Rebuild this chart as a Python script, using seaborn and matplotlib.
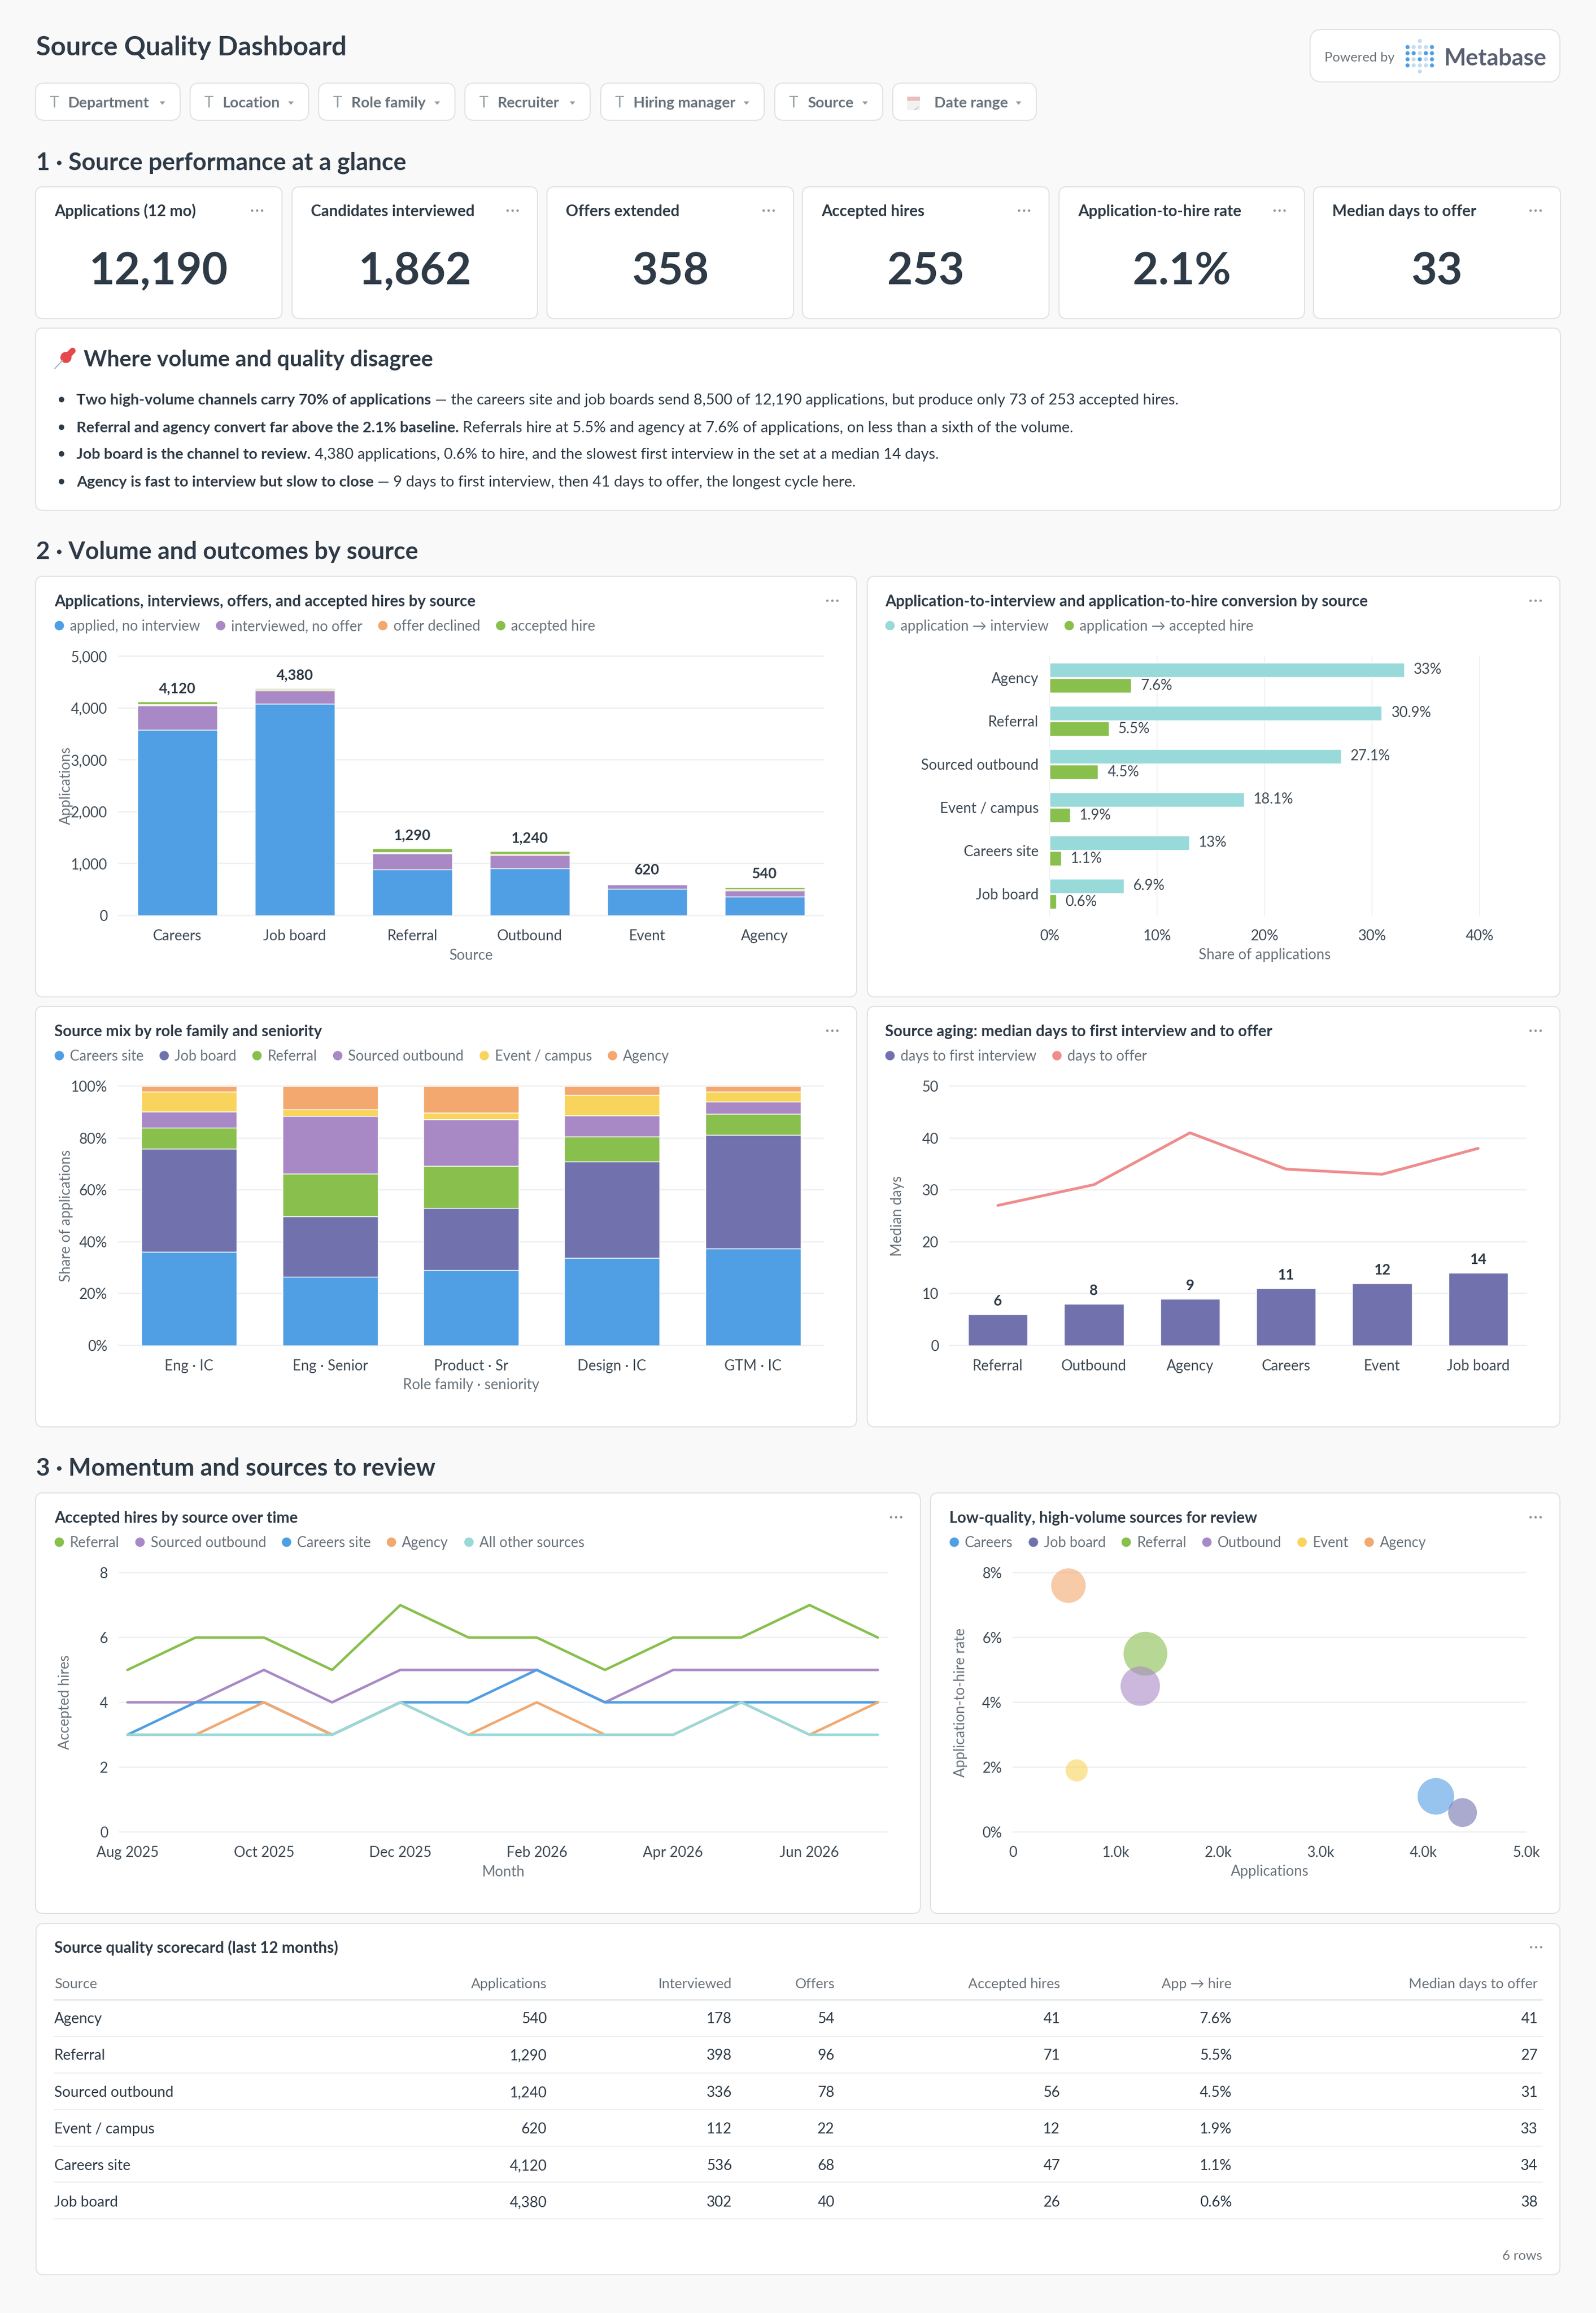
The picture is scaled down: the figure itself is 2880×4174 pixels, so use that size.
import pandas as pd
import matplotlib
matplotlib.use('Agg')
import matplotlib.pyplot as plt
import seaborn as sns
from matplotlib.patches import FancyBboxPatch, Circle, Polygon, Rectangle

W, H = 2880, 4174
PX = 0.72  # points per pixel at dpi 100

BG = '#F9F9FA'
BORDER = '#DFE3E4'
GRID = '#EEEFF0'
DARK = '#2E3A46'
TICK = '#3F4A54'
MUTED = '#6A737B'

BLUE = '#509EE3'
PURPLE = '#A989C5'
ORANGE = '#F2A86F'
GREEN = '#88BF4D'
INDIGO = '#7172AD'
YELLOW = '#F9D45C'
TEAL = '#98D9D9'
CORAL = '#EF8C8C'

# filters and KPI row
filter_names = ['Department', 'Location', 'Role family', 'Recruiter', 'Hiring manager', 'Source', 'Date range']
kpi_names = ['Applications (12 mo)', 'Candidates interviewed', 'Offers extended', 'Accepted hires',
             'Application-to-hire rate', 'Median days to offer']
kpi_values = ['12,190', '1,862', '358', '253', '2.1%', '33']

insights = [
    ('Two high-volume channels carry 70% of applications',
     ' — the careers site and job boards send 8,500 of 12,190 applications, but produce only 73 of 253 accepted hires.'),
    ('Referral and agency convert far above the 2.1% baseline.',
     ' Referrals hire at 5.5% and agency at 7.6% of applications, on less than a sixth of the volume.'),
    ('Job board is the channel to review.',
     ' 4,380 applications, 0.6% to hire, and the slowest first interview in the set at a median 14 days.'),
    ('Agency is fast to interview but slow to close',
     ' — 9 days to first interview, then 41 days to offer, the longest cycle here.'),
]

# funnel by source
funnel_sources = ['Careers', 'Job board', 'Referral', 'Outbound', 'Event', 'Agency']
applied_no_interview = [3584, 4078, 892, 904, 508, 362]
interviewed_no_offer = [468, 262, 302, 258, 90, 124]
offer_declined = [21, 14, 25, 22, 10, 13]
accepted_hire = [47, 26, 71, 56, 12, 41]
funnel_totals = [4120, 4380, 1290, 1240, 620, 540]

# conversion
conv_sources = ['Agency', 'Referral', 'Sourced outbound', 'Event / campus', 'Careers site', 'Job board']
app_to_interview = [33, 30.9, 27.1, 18.1, 13, 6.9]
app_to_hire = [7.6, 5.5, 4.5, 1.9, 1.1, 0.6]

# source mix
mix_roles = ['Eng · IC', 'Eng · Senior', 'Product · Sr', 'Design · IC', 'GTM · IC']
mix_careers = [36.2, 26.6, 29.1, 33.7, 37.3]
mix_job_board = [39.7, 23.2, 23.9, 37.2, 43.8]
mix_referral = [8.0, 16.4, 16.2, 9.7, 8.3]
mix_outbound = [6.3, 22.2, 18.0, 8.0, 4.6]
mix_event = [7.7, 2.7, 2.6, 7.9, 3.8]
mix_agency = [2.1, 8.9, 10.2, 3.5, 2.2]

# aging
aging_sources = ['Referral', 'Outbound', 'Agency', 'Careers', 'Event', 'Job board']
days_first_interview = [6, 8, 9, 11, 12, 14]
days_to_offer = [27, 31, 41, 34, 33, 38]

# hires over time
months = ['Aug 2025', 'Sep 2025', 'Oct 2025', 'Nov 2025', 'Dec 2025', 'Jan 2026',
          'Feb 2026', 'Mar 2026', 'Apr 2026', 'May 2026', 'Jun 2026', 'Jul 2026']
hires_referral = [5, 6, 6, 5, 7, 6, 6, 5, 6, 6, 7, 6]
hires_outbound = [4, 4, 5, 4, 5, 5, 5, 4, 5, 5, 5, 5]
hires_careers = [3, 4, 4, 3, 4, 4, 5, 4, 4, 4, 4, 4]
hires_agency = [3, 3, 4, 3, 4, 3, 4, 3, 3, 4, 3, 4]
hires_other = [3, 3, 3, 3, 4, 3, 3, 3, 3, 4, 3, 3]

# bubbles
bubble_sources = ['Careers', 'Job board', 'Referral', 'Outbound', 'Event', 'Agency']
bubble_apps = [4120, 4380, 1290, 1240, 620, 540]
bubble_rate = [1.1, 0.6, 5.5, 4.5, 1.9, 7.6]
bubble_hires = [47, 26, 71, 56, 12, 41]

# scorecard
table_headers = ['Source', 'Applications', 'Interviewed', 'Offers', 'Accepted hires', 'App → hire', 'Median days to offer']
table_sources = ['Agency', 'Referral', 'Sourced outbound', 'Event / campus', 'Careers site', 'Job board']
table_apps = ['540', '1,290', '1,240', '620', '4,120', '4,380']
table_interviewed = ['178', '398', '336', '112', '536', '302']
table_offers = ['54', '96', '78', '22', '68', '40']
table_hires = ['41', '71', '56', '12', '47', '26']
table_rate = ['7.6%', '5.5%', '4.5%', '1.9%', '1.1%', '0.6%']
table_days = ['41', '27', '31', '33', '34', '38']

sns.set_theme(style='white')
plt.rcParams['font.family'] = ['Lato', 'DejaVu Sans']
plt.rcParams['axes.unicode_minus'] = False

fig = plt.figure(figsize=(W / 100, H / 100), dpi=100, facecolor=BG)
page = fig.add_axes([0, 0, 1, 1], zorder=0)
page.set_xlim(0, W)
page.set_ylim(H, 0)
page.axis('off')
renderer = fig.canvas.get_renderer()


def label(x, y, s, px=26, color=DARK, weight='normal', ha='left'):
    return page.text(x, y, s, fontsize=px * PX, color=color, fontweight=weight, ha=ha, va='baseline')


def text_width(t):
    return t.get_window_extent(renderer).width


def card(x0, y0, x1, y1, radius=14):
    page.add_patch(FancyBboxPatch((x0, y0), x1 - x0, y1 - y0, boxstyle=f'round,pad=0,rounding_size={radius}',
                                  facecolor='white', edgecolor=BORDER, linewidth=2 * PX))


def dots(x, y):
    for dx in (-9, 0, 9):
        page.add_patch(Circle((x + dx, y), 2.2, color='#8F979D', lw=0))


def legend_row(x, y, labels, colors):
    for name, c in zip(labels, colors):
        page.add_patch(Circle((x, y), 8.5, color=c, lw=0))
        t = label(x + 19, y + 9, name, 25.6, MUTED)
        x = x + 19 + text_width(t) + 37


def chart_card(box, title, labels, colors, title_x):
    x0, y0, x1, y1 = box
    card(x0, y0, x1, y1)
    label(title_x, y0 + 54, title, 28, DARK, 'bold')
    dots(x1 - 44, y0 + 44)
    legend_row(title_x + 9, y0 + 89, labels, colors)


def plot_axes(x0, y_top, x1, y_bottom):
    ax = fig.add_axes([x0 / W, 1 - y_bottom / H, (x1 - x0) / W, (y_bottom - y_top) / H], zorder=1)
    ax.patch.set_alpha(0)
    return ax


def style_axes(ax, xlabel, ylabel, ylabel_x, xlabel_off=72, grid='y'):
    box = ax.get_position()
    w, h = box.width * W, box.height * H
    sns.despine(ax=ax, left=True, bottom=True)
    ax.set_axisbelow(True)
    ax.grid(False)
    ax.grid(True, axis=grid, color=GRID, linewidth=(2.4 if grid == 'y' else 1.6) * PX)
    for line in ax.get_xgridlines() + ax.get_ygridlines():
        line.set_clip_on(False)
    ax.tick_params(axis='x', length=0, labelsize=26 * PX, labelcolor=TICK, pad=25 * PX)
    ax.tick_params(axis='y', length=0, labelsize=26 * PX, labelcolor=TICK, pad=20 * PX)
    ax.set_xlabel(xlabel, fontsize=26 * PX, color=MUTED, va='center')
    ax.xaxis.set_label_coords(0.5, -xlabel_off / h)
    ax.set_ylabel(ylabel, fontsize=26 * PX, color=MUTED, va='center', labelpad=0)
    ax.yaxis.set_label_coords((ylabel_x - box.x0 * W) / w, 0.5)


# ---- header
label(65, 100, 'Source Quality Dashboard', 48, DARK, 'bold')

chip_x = [(64, 325), (343, 557), (575, 821), (839, 1065), (1084, 1379), (1398, 1593), (1611, 1870)]
for name, (x0, x1) in zip(filter_names, chip_x):
    card(x0, 150, x1, 217, 16)
    if name == 'Date range':
        page.add_patch(Rectangle((1637, 173), 23, 26, color='#F1F1F1', lw=0))
        page.add_patch(Rectangle((1637, 175), 23, 7, color='#EDBDBD', lw=0))
        page.add_patch(Polygon([(1648, 199), (1660, 191), (1654, 197)], color='#B5B5B5', lw=0))
        label(1686, 194, name, 27, MUTED, 'bold')
    else:
        label(x0 + 34, 194, 'T', 28, '#9AA3A8', ha='center')
        label(x0 + 59, 194, name, 27, MUTED, 'bold')
    page.add_patch(Polygon([(x1 - 37, 183), (x1 - 27, 183), (x1 - 32, 189)], color='#8F979D', lw=0))

card(2364, 53, 2815, 148, 22)
label(2390, 111, 'Powered by', 24, MUTED)
label(2606, 118, 'Metabase', 42, '#5A6072', 'bold')
logo_rows = ['..o..', 'XoooX', 'XXoXX', 'XoXoX', 'XoooX', '..o..']
for r, row in enumerate(logo_rows):
    for c, mark in enumerate(row):
        if mark != '.':
            page.add_patch(Circle((2540 + c * 11, 74 + r * 11), 3.7, color=BLUE if mark == 'X' else '#C5DBF2', lw=0))

# ---- section 1
label(65, 306, '1 · Source performance at a glance', 43.5, DARK, 'bold')
kpi_x = [(64, 509), (527, 970), (987, 1432), (1448, 1893), (1911, 2354), (2370, 2816)]
for name, value, (x0, x1) in zip(kpi_names, kpi_values, kpi_x):
    card(x0, 337, x1, 575)
    label(x0 + 34, 390, name, 28, DARK, 'bold')
    dots(x1 - 45, 380)
    label((x0 + x1) / 2, 513, value, 80, DARK, 'bold', ha='center')

card(64, 592, 2816, 921)
page.plot([99, 113], [665, 650], color='#9FB3C4', lw=2 * PX)
page.add_patch(Circle((119, 645), 10, color='#E5484D', lw=0))
page.plot([120, 131], [644, 633], color='#E5484D', lw=11 * PX, solid_capstyle='round')
label(151, 661, 'Where volume and quality disagree', 40, DARK, 'bold')
for (strong, rest), y in zip(insights, [730, 780, 828, 878]):
    page.add_patch(Circle((111, y - 9), 5, color=DARK, lw=0))
    t = label(138, y, strong, 27.4, DARK, 'bold')
    label(138 + text_width(t) + 7, y, rest.strip(), 27.4, DARK)

# ---- section 2
label(65, 1009, '2 · Volume and outcomes by source', 43.5, DARK, 'bold')

# funnel stacked bars
chart_card((64, 1040, 1546, 1799), 'Applications, interviews, offers, and accepted hires by source',
           ['applied, no interview', 'interviewed, no offer', 'offer declined', 'accepted hire'],
           [BLUE, PURPLE, ORANGE, GREEN], 98)
ax = plot_axes(214, 1184, 1486, 1652)
bottom = [0] * len(funnel_sources)
for vals, c in zip([applied_no_interview, interviewed_no_offer, offer_declined, accepted_hire],
                   [BLUE, PURPLE, ORANGE, GREEN]):
    sns.barplot(x=funnel_sources, y=vals, bottom=bottom, color=c, width=0.675, saturation=1, errorbar=None, ax=ax)
    bottom = [b + v for b, v in zip(bottom, vals)]
for i, total in enumerate(funnel_totals):
    ax.annotate(f'{total:,}', (i, total), xytext=(0, 16), textcoords='offset pixels', ha='center', va='baseline',
                fontsize=26 * PX, fontweight='bold', color=DARK)
ax.set_xlim(-0.5, 5.5)
ax.set_ylim(0, 5000)
ax.set_yticks([0, 1000, 2000, 3000, 4000, 5000], ['0', '1,000', '2,000', '3,000', '4,000', '5,000'])
style_axes(ax, 'Source', 'Applications', 119)

# conversion bars
chart_card((1565, 1040, 2815, 1799), 'Application-to-interview and application-to-hire conversion by source',
           ['application → interview', 'application → accepted hire'], [TEAL, GREEN], 1597)
conv = pd.DataFrame({
    'source': conv_sources * 2,
    'rate': app_to_interview + app_to_hire,
    'metric': ['interview'] * 6 + ['hire'] * 6,
})
ax = plot_axes(1894, 1184, 2670, 1652)
sns.barplot(data=conv, y='source', x='rate', hue='metric', palette=[TEAL, GREEN], width=0.718, gap=0.07,
            saturation=1, errorbar=None, legend=False, ax=ax)
for cont, vals in zip(ax.containers, [app_to_interview, app_to_hire]):
    ax.bar_label(cont, labels=[f'{v:g}%' for v in vals], padding=17 * PX, fontsize=26 * PX, color=TICK)
ax.set_xlim(0, 40)
ax.set_ylim(5.5, -0.5)
ax.set_xticks([0, 10, 20, 30, 40], ['0%', '10%', '20%', '30%', '40%'])
style_axes(ax, 'Share of applications', '', 1620, grid='x')

# source mix
mix_names = ['Careers site', 'Job board', 'Referral', 'Sourced outbound', 'Event / campus', 'Agency']
mix_colors = [BLUE, INDIGO, GREEN, PURPLE, YELLOW, ORANGE]
chart_card((64, 1816, 1546, 2575), 'Source mix by role family and seniority', mix_names, mix_colors, 98)
ax = plot_axes(214, 1960, 1486, 2428)
bottom = [0] * len(mix_roles)
for vals, c in zip([mix_careers, mix_job_board, mix_referral, mix_outbound, mix_event, mix_agency], mix_colors):
    sns.barplot(x=mix_roles, y=vals, bottom=bottom, color=c, width=0.676, saturation=1, errorbar=None, ax=ax)
    bottom = [b + v for b, v in zip(bottom, vals)]
ax.set_xlim(-0.5, 4.5)
ax.set_ylim(0, 100)
ax.set_yticks([0, 20, 40, 60, 80, 100], ['0%', '20%', '40%', '60%', '80%', '100%'])
style_axes(ax, 'Role family · seniority', 'Share of applications', 119)

# aging
chart_card((1565, 1816, 2815, 2575), 'Source aging: median days to first interview and to offer',
           ['days to first interview', 'days to offer'], [INDIGO, CORAL], 1597)
ax = plot_axes(1714, 1960, 2754, 2428)
sns.barplot(x=aging_sources, y=days_first_interview, color=INDIGO, width=0.62, saturation=1, errorbar=None, ax=ax)
sns.lineplot(x=aging_sources, y=days_to_offer, color=CORAL, linewidth=5 * PX, sort=False, ax=ax)
for i, v in enumerate(days_first_interview):
    ax.annotate(str(v), (i, v), xytext=(0, 16), textcoords='offset pixels', ha='center', va='baseline',
                fontsize=26 * PX, fontweight='bold', color=DARK)
ax.set_xlim(-0.5, 5.5)
ax.set_ylim(0, 50)
ax.set_yticks([0, 10, 20, 30, 40, 50])
style_axes(ax, '', 'Median days', 1620)

# ---- section 3
label(65, 2663, '3 · Momentum and sources to review', 43.5, DARK, 'bold')

line_names = ['Referral', 'Sourced outbound', 'Careers site', 'Agency', 'All other sources']
line_colors = [GREEN, PURPLE, BLUE, ORANGE, TEAL]
chart_card((64, 2694, 1661, 3453), 'Accepted hires by source over time', line_names, line_colors, 98)
hires = pd.DataFrame({
    'month': months * 5,
    'hires': hires_referral + hires_outbound + hires_careers + hires_agency + hires_other,
    'source': [n for n in line_names for _ in months],
})
ax = plot_axes(215, 2838, 1601, 3306)
sns.lineplot(data=hires, x='month', y='hires', hue='source', hue_order=line_names, palette=line_colors,
             linewidth=4.5 * PX, sort=False, legend=False, errorbar=None, ax=ax)
ax.set_xlim(-0.122, 11.138)
ax.set_ylim(0, 8)
ax.set_yticks([0, 2, 4, 6, 8])
ax.set_xticks(range(0, 12, 2), months[::2])
style_axes(ax, 'Month', 'Accepted hires', 118)

chart_card((1679, 2694, 2815, 3453), 'Low-quality, high-volume sources for review',
           bubble_sources, mix_colors, 1713)
bubbles = pd.DataFrame({'source': bubble_sources, 'applications': bubble_apps, 'rate': bubble_rate, 'hires': bubble_hires})
ax = plot_axes(1828, 2838, 2754, 3306)
sns.scatterplot(data=bubbles, x='applications', y='rate', hue='source', size='hires', sizes=(829, 3235),
                palette=mix_colors, alpha=0.6, linewidth=0, legend=False, clip_on=False, ax=ax)
ax.set_xlim(0, 5000)
ax.set_ylim(0, 8)
ax.set_xticks([0, 1000, 2000, 3000, 4000, 5000], ['0', '1.0k', '2.0k', '3.0k', '4.0k', '5.0k'])
ax.set_yticks([0, 2, 4, 6, 8], ['0%', '2%', '4%', '6%', '8%'])
style_axes(ax, 'Applications', 'Application-to-hire rate', 1733)

# ---- scorecard table
card(65, 3471, 2815, 4105)
label(98, 3524, 'Source quality scorecard (last 12 months)', 28, DARK, 'bold')
dots(2772, 3514)
col_right = [None, 987, 1321, 1506, 1913, 2223, 2775]
columns = [table_sources, table_apps, table_interviewed, table_offers, table_hires, table_rate, table_days]
for head, right in zip(table_headers, col_right):
    if right is None:
        label(98, 3588, head, 25.4, MUTED)
    else:
        label(right, 3588, head, 25.4, MUTED, ha='right')
page.plot([98, 2783], [3609, 3609], color=BORDER, lw=2.4 * PX)
row_text_y = [3651, 3717, 3784, 3850, 3916, 3982]
row_line_y = [3675, 3741, 3807, 3873, 3938, 4004]
for i, (ty, ly) in enumerate(zip(row_text_y, row_line_y)):
    for col, right in zip(columns, col_right):
        if right is None:
            label(98, ty, col[i], 26.4, DARK)
        else:
            label(right, ty, col[i], 26.4, DARK, ha='right')
    page.plot([98, 2783], [ly, ly], color=GRID, lw=2 * PX)
label(2783, 4078, '6 rows', 24, MUTED, ha='right')

fig.savefig('out.png', dpi=100, facecolor=BG)
